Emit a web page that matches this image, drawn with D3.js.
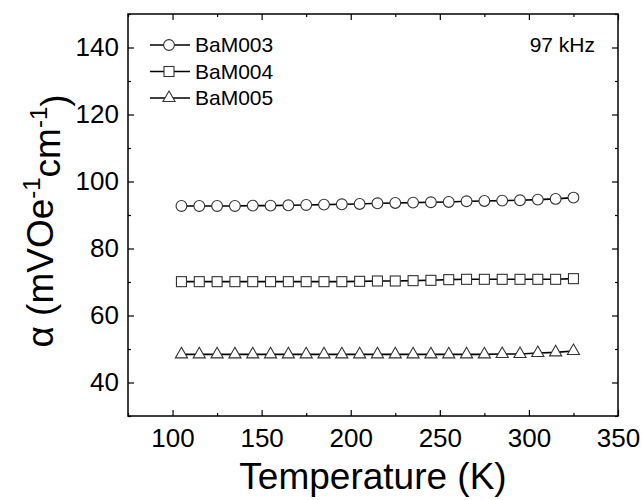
<!DOCTYPE html>
<html>
<head>
<meta charset="utf-8">
<script src="https://cdn.jsdelivr.net/npm/d3@7"></script>
<style>
  body { margin: 0; background: #fff; }
  text { font-family: Arial, "Liberation Sans", sans-serif; fill: #000; }
</style>
</head>
<body>
<div id="chart"></div>
<script>
// temperatures (K)
var temps = [105, 115, 125, 135, 145, 155, 165, 175, 185, 195, 205, 215,
             225, 235, 245, 255, 265, 275, 285, 295, 305, 315, 325];

var bam003 = [92.7, 92.7, 92.7, 92.7, 92.8, 92.8, 92.9, 93.0, 93.1, 93.2, 93.3, 93.5,
              93.6, 93.7, 93.8, 93.9, 94.1, 94.2, 94.3, 94.4, 94.6, 94.8, 95.2];
var bam004 = [70.1, 70.1, 70.1, 70.1, 70.1, 70.1, 70.1, 70.1, 70.1, 70.1, 70.2, 70.3,
              70.3, 70.4, 70.5, 70.7, 70.8, 70.8, 70.8, 70.8, 70.8, 70.8, 71.0];
var bam005 = [48.4, 48.4, 48.4, 48.4, 48.4, 48.4, 48.4, 48.4, 48.4, 48.4, 48.4, 48.4,
              48.4, 48.4, 48.4, 48.4, 48.4, 48.4, 48.5, 48.5, 48.8, 49.0, 49.4];

var seriesNames = ["BaM003", "BaM004", "BaM005"];
var seriesShapes = ["circle", "square", "triangle"];

var xTicks = [100, 150, 200, 250, 300, 350];
var xMinor = [75, 125, 175, 225, 275, 325];
var yTicks = [40, 60, 80, 100, 120, 140];
var yMinor = [30, 50, 70, 90, 110, 130, 150];

var width = 642;
var height = 500;
var margin = {top: 14, right: 24, bottom: 84, left: 128};
var w = width - margin.left - margin.right;
var h = height - margin.top - margin.bottom;

var svg = d3.select('#chart')
    .append('svg')
        .attr('width', width)
        .attr('height', height)
    .append('g')
        .attr('transform', 'translate(' + margin.left + ',' + margin.top + ')');

var xScale = d3.scaleLinear().domain([75, 350]).range([0, w]);
var yScale = d3.scaleLinear().domain([30, 150]).range([h, 0]);

// frame
svg.append('rect')
    .attr('x', 0).attr('y', 0)
    .attr('width', w).attr('height', h)
    .attr('fill', 'none')
    .attr('stroke', '#000')
    .attr('stroke-width', 1.5);

function styleAxis(g) {
    g.select('.domain').remove();
    g.attr('font-size', 26).attr('font-family', 'Arial, "Liberation Sans", sans-serif');
    g.selectAll('line').attr('stroke', '#000').attr('stroke-width', 1.2);
    g.selectAll('text').attr('fill', '#000');
}

// bottom axis
svg.append('g')
    .attr('transform', 'translate(0,' + h + ')')
    .call(d3.axisBottom(xScale).tickValues(xTicks).tickSize(-6).tickPadding(13))
    .call(styleAxis);
svg.append('g')
    .attr('transform', 'translate(0,' + h + ')')
    .call(d3.axisBottom(xScale).tickValues(xMinor).tickSize(-3).tickFormat(''))
    .call(styleAxis);
// top axis
svg.append('g')
    .call(d3.axisTop(xScale).tickValues(xTicks).tickSize(-6).tickFormat(''))
    .call(styleAxis);
svg.append('g')
    .call(d3.axisTop(xScale).tickValues(xMinor).tickSize(-3).tickFormat(''))
    .call(styleAxis);

// left axis
svg.append('g')
    .call(d3.axisLeft(yScale).tickValues(yTicks).tickSize(-6).tickPadding(9))
    .call(styleAxis);
svg.append('g')
    .call(d3.axisLeft(yScale).tickValues(yMinor).tickSize(-3).tickFormat(''))
    .call(styleAxis);
// right axis
svg.append('g')
    .attr('transform', 'translate(' + w + ',0)')
    .call(d3.axisRight(yScale).tickValues(yTicks).tickSize(-6).tickFormat(''))
    .call(styleAxis);
svg.append('g')
    .attr('transform', 'translate(' + w + ',0)')
    .call(d3.axisRight(yScale).tickValues(yMinor).tickSize(-3).tickFormat(''))
    .call(styleAxis);

// x label
svg.append('text')
    .attr('x', w / 2)
    .attr('y', h + 73)
    .attr('text-anchor', 'middle')
    .style('font-size', '37px')
    .text('Temperature (K)');

// y label
var yl = svg.append('text')
    .attr('transform', 'translate(' + (53 - margin.left) + ',' + (221 - margin.top) + ') rotate(-90)')
    .attr('text-anchor', 'middle')
    .style('font-size', '37px');
yl.append('tspan').text('\u03b1 (mVOe');
yl.append('tspan').attr('dy', '-0.55em').style('font-size', '24px').text('-1');
yl.append('tspan').attr('dy', '0.55em').text('cm');
yl.append('tspan').attr('dy', '-0.55em').style('font-size', '24px').text('-1');
yl.append('tspan').attr('dy', '0.55em').text(')');

// frequency note
svg.append('text')
    .attr('x', 595 - margin.left)
    .attr('y', 52 - margin.top)
    .attr('text-anchor', 'end')
    .style('font-size', '21px')
    .text('97 kHz');

function drawMarker(sel, shape) {
    if (shape === 'circle') {
        sel.append('circle').attr('r', 5.4);
    } else if (shape === 'square') {
        sel.append('rect').attr('x', -5).attr('y', -5).attr('width', 10).attr('height', 10);
    } else {
        sel.append('path').attr('d', d3.symbol(d3.symbolTriangle, 64)());
    }
    sel.selectAll('circle, rect, path')
        .attr('fill', '#fff')
        .attr('stroke', '#333')
        .attr('stroke-width', 1.1);
}

var allSeries = [bam003, bam004, bam005];

allSeries.forEach(function (vals, i) {
    var data = temps.map(function (t, j) { return {t: t, v: vals[j]}; });

    svg.append('path')
        .datum(data)
        .attr('fill', 'none')
        .attr('stroke', '#000')
        .attr('stroke-width', 1.6)
        .attr('d', d3.line()
            .x(function (d) { return xScale(d.t); })
            .y(function (d) { return yScale(d.v); })
        );

    svg.selectAll('.pt' + i)
        .data(data)
        .enter()
        .append('g')
        .attr('class', 'pt' + i)
        .attr('transform', function (d) {
            return 'translate(' + xScale(d.t) + ',' + yScale(d.v) + ')';
        })
        .each(function () { drawMarker(d3.select(this), seriesShapes[i]); });
});

// legend
var legend = svg.append('g')
    .attr('transform', 'translate(' + (150 - margin.left) + ',' + (45 - margin.top) + ')');

seriesNames.forEach(function (name, i) {
    var row = legend.append('g').attr('transform', 'translate(0,' + (i * 26.5) + ')');
    row.append('line')
        .attr('x1', 0).attr('x2', 40)
        .attr('y1', 0).attr('y2', 0)
        .attr('stroke', '#000')
        .attr('stroke-width', 1.4);
    var m = row.append('g').attr('transform', 'translate(19,0)');
    drawMarker(m, seriesShapes[i]);
    row.append('text')
        .attr('x', 45)
        .attr('y', 7)
        .style('font-size', '21px')
        .text(name);
});
</script>
</body>
</html>
